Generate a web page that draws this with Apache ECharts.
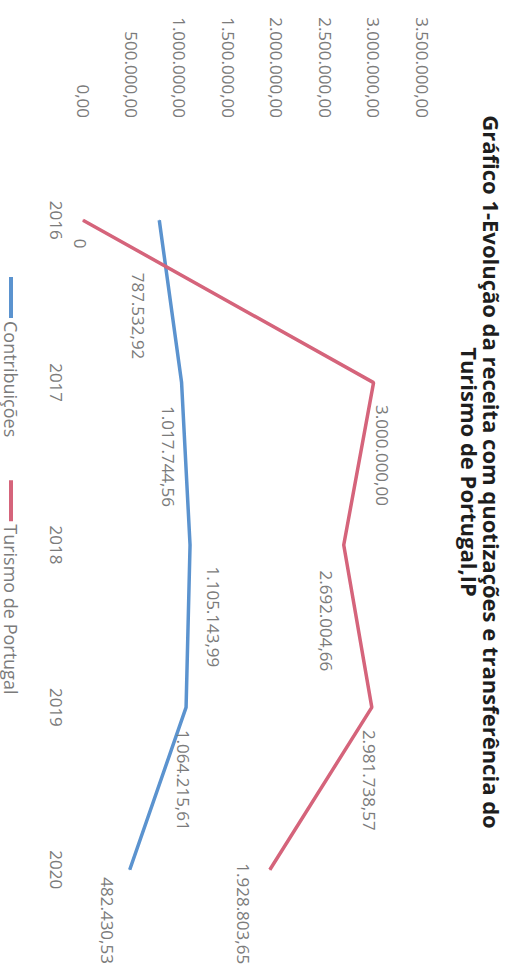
<!DOCTYPE html>
<html>
<head>
<meta charset="utf-8">
<script src="https://cdn.jsdelivr.net/npm/echarts@6/dist/echarts.min.js"></script>
<style>
  html, body { margin: 0; padding: 0; background: #ffffff; width: 522px; height: 969px; overflow: hidden; }
  #chart { position: absolute; left: 0; top: 0; width: 969px; height: 522px;
           transform-origin: 0 0; transform: translate(522px, 0) rotate(90deg); }
</style>
</head>
<body>
<div id="chart"></div>
<script>
// ---- data ----
const categories = ['2016', '2017', '2018', '2019', '2020'];
const contribuicoes = [787532.92, 1017744.56, 1105143.99, 1064215.61, 482430.53];
const turismo = [0, 3000000.00, 2692004.66, 2981738.57, 1928803.65];
const seriesNames = ['Contribuições', 'Turismo de Portugal'];
const yMin = 0, yMax = 3500000, yStep = 500000;
const titleLines = ['Gráfico 1-Evolução da receita com quotizações e transferência do', 'Turismo de Portugal,IP'];

// ---- label placement (layout only) ----
const blueLabelOffsets = [[52, 21], [23, 13], [21, -23], [22, 3], [7, 22]];
const redLabelOffsets = [[18, 3], [22, -9], [25, 17], [22, 2], [-7, 26]];

function fmt(v) {
  if (v === 0) return '0';
  const parts = v.toFixed(2).split('.');
  parts[0] = parts[0].replace(/\B(?=(\d{3})+(?!\d))/g, '.');
  return parts[0] + ',' + parts[1];
}

const FONT = "'Open Sans', 'Liberation Sans', sans-serif";
const GRAY = '#7b7b7b';
const BLUE = '#5b93cf';
const RED = '#d5647b';

function buildData(values, offsets) {
  return values.map((v, i) => ({
    value: v,
    label: { offset: offsets[i] }
  }));
}

const chart = echarts.init(document.getElementById('chart'), null, { renderer: 'svg', width: 969, height: 522 });
chart.setOption({
  animation: false,
  backgroundColor: '#ffffff',
  title: {
    text: titleLines.join('\n'),
    left: 472,
    top: 19,
    padding: 0,
    textAlign: 'center',
    textStyle: { fontFamily: FONT, fontWeight: 'bold', fontSize: 22, lineHeight: 22, color: '#1e1e1e' }
  },
  legend: {
    left: 277,
    top: 502,
    padding: 0,
    itemGap: 43,
    itemWidth: 41,
    itemHeight: 4,
    icon: 'rect',
    textStyle: { fontFamily: FONT, fontSize: 18, color: GRAY, padding: [0, 0, 0, -2] },
    data: seriesNames
  },
  grid: { left: 139, right: 18, top: 100, bottom: 83, containLabel: false },
  xAxis: {
    type: 'category',
    data: categories,
    boundaryGap: true,
    axisLine: { show: false },
    axisTick: { show: false },
    axisLabel: { fontFamily: FONT, fontSize: 17, color: GRAY, margin: 18 }
  },
  yAxis: {
    type: 'value',
    min: yMin, max: yMax, interval: yStep,
    axisLine: { show: false },
    axisTick: { show: false },
    splitLine: { show: false },
    axisLabel: { fontFamily: FONT, fontSize: 17, color: GRAY, margin: 21, formatter: v => fmt(v) === '0' ? '0,00' : fmt(v) }
  },
  series: [
    {
      name: seriesNames[0],
      type: 'line',
      data: buildData(contribuicoes, blueLabelOffsets),
      showSymbol: true,
      symbol: 'circle',
      symbolSize: 1,
      lineStyle: { color: BLUE, width: 3.5 },
      itemStyle: { color: BLUE },
      label: { show: true, position: 'right', distance: 0, fontFamily: FONT, fontSize: 17, color: GRAY, formatter: p => fmt(p.value) },
      z: 2
    },
    {
      name: seriesNames[1],
      type: 'line',
      data: buildData(turismo, redLabelOffsets),
      showSymbol: true,
      symbol: 'circle',
      symbolSize: 1,
      lineStyle: { color: RED, width: 3.5 },
      itemStyle: { color: RED },
      label: { show: true, position: 'right', distance: 0, fontFamily: FONT, fontSize: 17, color: GRAY, formatter: p => fmt(p.value) },
      z: 3
    }
  ]
});
</script>
</body>
</html>
